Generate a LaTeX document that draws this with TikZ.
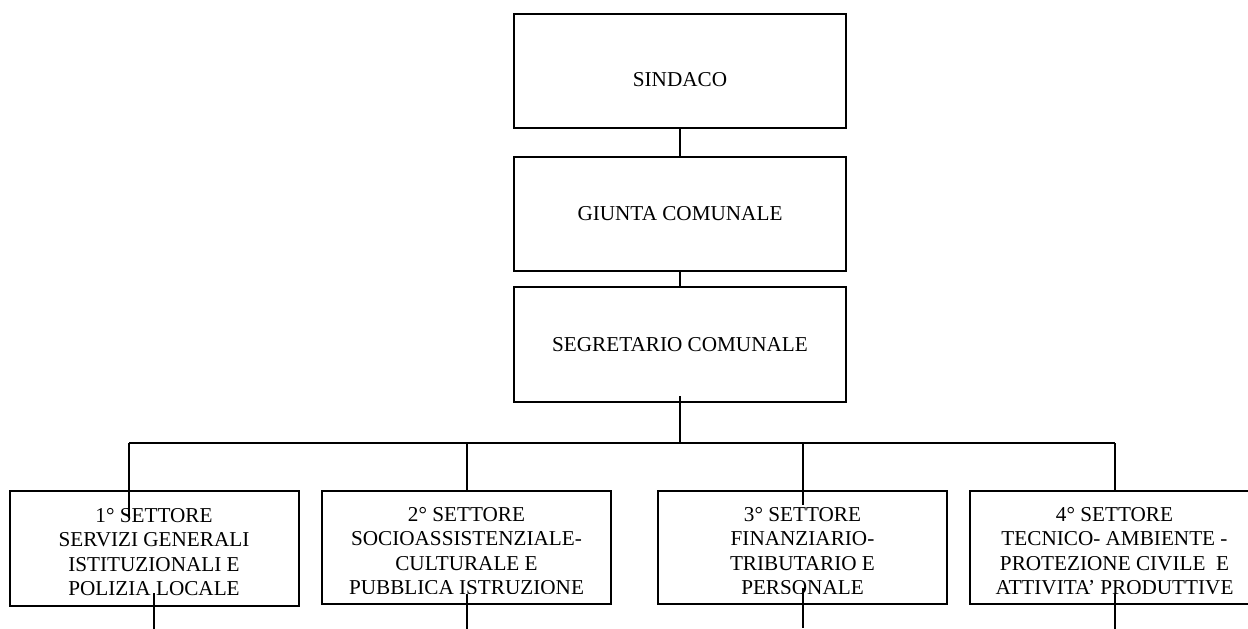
\documentclass[tikz,border=0pt]{standalone}
\usepackage{fontspec}
\setmainfont{Liberation Serif}

\tikzset{
  topbox/.style={draw, line width=1pt, minimum width=166pt, minimum height=57pt, inner sep=0pt},
  sectbox/.style={draw, line width=1pt, minimum width=144.5pt, minimum height=56.5pt, inner sep=0pt},
  secttext/.style={align=center, inner sep=0pt, anchor=base},
  link/.style={line width=1pt},
}

\begin{document}
\begin{tikzpicture}[x=1pt, y=-1pt, font=\fontsize{10.6}{12.25}\selectfont]
    \path[use as bounding box] (0,0) rectangle (624,314);
    \clip (0,0) rectangle (624,314);

    % Top boxes
    \node[topbox, text height=16pt] (sindaco) at (340,35.5) {SINDACO};
    \node[topbox] (giunta) at (340,107) {GIUNTA COMUNALE};
    \node[topbox, minimum height=57.5pt] (segretario) at (340,172.25) {SEGRETARIO COMUNALE};

    % Sectors (last baseline given)
    \node[sectbox, minimum height=57.5pt] (s1) at (77,274.25) {};
    \node[sectbox] (s2) at (233.25,273.75) {};
    \node[sectbox] (s3) at (401.25,273.75) {};
    \node[sectbox] (s4) at (557.25,273.75) {};

    \node[secttext] (s1text) at (77,297.9)
        {1° SETTORE\\SERVIZI GENERALI\\ISTITUZIONALI E\\POLIZIA LOCALE};
    \begin{scope}
        \clip (s2.north west) rectangle ([yshift=5.75pt]s2.south east);
        \node[secttext] (s2text) at (233.25,297.4)
            {2° SETTORE\\SOCIOASSISTENZIALE-\\CULTURALE E\\PUBBLICA ISTRUZIONE};
    \end{scope}
    \begin{scope}
        \clip (s3.north west) rectangle ([yshift=5.75pt]s3.south east);
        \node[secttext] (s3text) at (401.25,297.4)
            {3° SETTORE\\FINANZIARIO-\\TRIBUTARIO E\\PERSONALE};
    \end{scope}
    \begin{scope}
        \clip (s4.north west) rectangle ([yshift=5.75pt]s4.south east);
        \node[secttext] (s4text) at (557.25,297.4)
            {4° SETTORE\\TECNICO- AMBIENTE -\\PROTEZIONE CIVILE~ E\\ATTIVITA’ PRODUTTIVE};
    \end{scope}

    % Links
    \draw[link] (sindaco) -- (giunta);
    \draw[link] (giunta) -- (segretario);
    \coordinate (bus) at (340,221.5);
    \coordinate (b1) at (64.5,221.5);
    \coordinate (b2) at (s2.north |- bus);
    \coordinate (b3) at (s3.north |- bus);
    \coordinate (b4) at (s4.north |- bus);
    \draw[link] ([yshift=3.5pt]segretario.south) -- (bus);
    \draw[link] (b1) -- (b4);
    \draw[link] (b1) -- ++(0,37.5);
    \draw[link] (b2) -- (s2.north);
    \draw[link] (b3) -- ++(0,31);
    \draw[link] (b4) -- (s4.north);
    \draw[link] ([yshift=7pt]s1.south) -- ++(0,20);
    \draw[link] ([yshift=5.5pt]s2.south) -- ++(0,20);
    \draw[link] ([yshift=8.5pt]s3.south) -- ++(0,20);
    \draw[link] ([yshift=5.5pt]s4.south) -- ++(0,20);
\end{tikzpicture}
\end{document}
